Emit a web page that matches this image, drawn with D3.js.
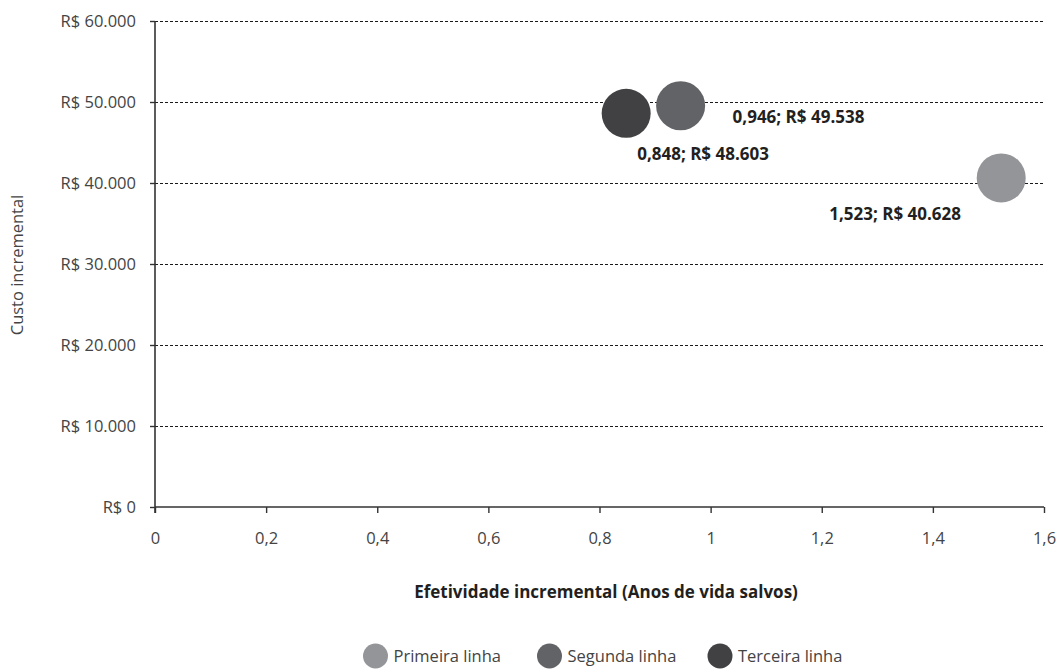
<!DOCTYPE html>
<html>
<head>
<meta charset="utf-8">
<script src="https://cdn.jsdelivr.net/npm/d3@7"></script>
<style>
  html, body { margin: 0; padding: 0; background: #fff; }
  svg { display: block; font-family: "Open Sans", "Noto Sans", sans-serif; }
</style>
</head>
<body>
<svg id="chart" width="1056" height="670"></svg>
<script>
// Treatment lines and their incremental effectiveness / cost
const series = ["Primeira linha", "Segunda linha", "Terceira linha"];
const effectiveness = [1.523, 0.946, 0.848];
const cost = [40628, 49538, 48603];
const colors = ["#949599", "#626366", "#414143"];
const pointLabels = ["1,523; R$ 40.628", "0,946; R$ 49.538", "0,848; R$ 48.603"];

const xTicks = [0, 0.2, 0.4, 0.6, 0.8, 1, 1.2, 1.4, 1.6];
const yTicks = [0, 10000, 20000, 30000, 40000, 50000, 60000];

const svg = d3.select("#chart");
const x = d3.scaleLinear().domain([0, 1.6]).range([155, 1044]);
const y = d3.scaleLinear().domain([0, 60000]).range([507, 21]);

const fmtX = v => String(v).replace(".", ",");
const fmtY = v => "R$ " + (v === 0 ? "0" : d3.format(",")(v).replace(/,/g, "."));

// dashed horizontal gridlines
svg.append("g")
  .attr("shape-rendering", "crispEdges")
  .selectAll("line")
  .data(yTicks.filter(d => d > 0))
  .join("line")
  .attr("x1", x(0)).attr("x2", x(1.6))
  .attr("y1", d => y(d)).attr("y2", d => y(d))
  .attr("stroke", "#1a1a1a")
  .attr("stroke-width", 1)
  .attr("stroke-dasharray", "3,2");

// y axis
const yAxis = svg.append("g")
  .attr("transform", `translate(${x(0)},0)`)
  .call(d3.axisLeft(y).tickValues(yTicks).tickFormat(fmtY).tickSize(5).tickPadding(14));
yAxis.select(".domain").attr("stroke", "#333").attr("stroke-width", 1.6).attr("d", `M0,${y(60000)}V${y(0) + 6}`);
yAxis.selectAll(".tick line").attr("stroke", "#333").attr("stroke-width", 1.4);
yAxis.selectAll(".tick text").attr("fill", "#444").style("font-size", "16.5px").style("font-family", "'Open Sans', sans-serif");

// x axis
const xAxis = svg.append("g")
  .attr("transform", `translate(0,${y(0)})`)
  .call(d3.axisBottom(x).tickValues(xTicks).tickFormat(fmtX).tickSize(6).tickPadding(19));
xAxis.select(".domain").attr("stroke", "#333").attr("stroke-width", 1.6).attr("d", `M${x(0)},0H${x(1.6)}`);
xAxis.selectAll(".tick line").attr("stroke", "#333").attr("stroke-width", 1.4);
xAxis.selectAll(".tick text").attr("fill", "#444").style("font-size", "16.5px").style("font-family", "'Open Sans', sans-serif");

// bubbles
const pts = series.map((s, i) => ({ s, ex: effectiveness[i], c: cost[i], col: colors[i], lab: pointLabels[i] }));
svg.append("g")
  .selectAll("circle")
  .data(pts)
  .join("circle")
  .attr("cx", d => x(d.ex))
  .attr("cy", d => y(d.c))
  .attr("r", 24.5)
  .attr("fill", d => d.col);

// value labels
const labelOffsets = [[-172, 42], [52, 17], [11, 47]];
svg.append("g")
  .selectAll("text")
  .data(pts)
  .join("text")
  .attr("x", (d, i) => x(d.ex) + labelOffsets[i][0])
  .attr("y", (d, i) => y(d.c) + labelOffsets[i][1])
  .attr("fill", "#231f20")
  .style("font-size", "17px")
  .style("font-weight", "bold")
  .text(d => d.lab);

// axis titles
svg.append("text")
  .attr("x", 606).attr("y", 598)
  .attr("text-anchor", "middle")
  .attr("fill", "#231f20")
  .style("font-size", "17px")
  .style("font-weight", "bold")
  .text("Efetividade incremental (Anos de vida salvos)");

svg.append("text")
  .attr("transform", "translate(23,265) rotate(-90)")
  .attr("text-anchor", "middle")
  .attr("fill", "#444")
  .style("font-size", "16.5px")
  .text("Custo incremental");

// legend
const legendX = [375.5, 549.5, 720];
const legend = svg.append("g")
  .selectAll("g")
  .data(pts)
  .join("g")
  .attr("transform", (d, i) => `translate(${legendX[i]},656)`);
legend.append("circle").attr("r", 12.5).attr("fill", d => d.col);
legend.append("text")
  .attr("x", 18).attr("y", 6)
  .attr("fill", "#444")
  .style("font-size", "16.5px")
  .text(d => d.s);
</script>
</body>
</html>
